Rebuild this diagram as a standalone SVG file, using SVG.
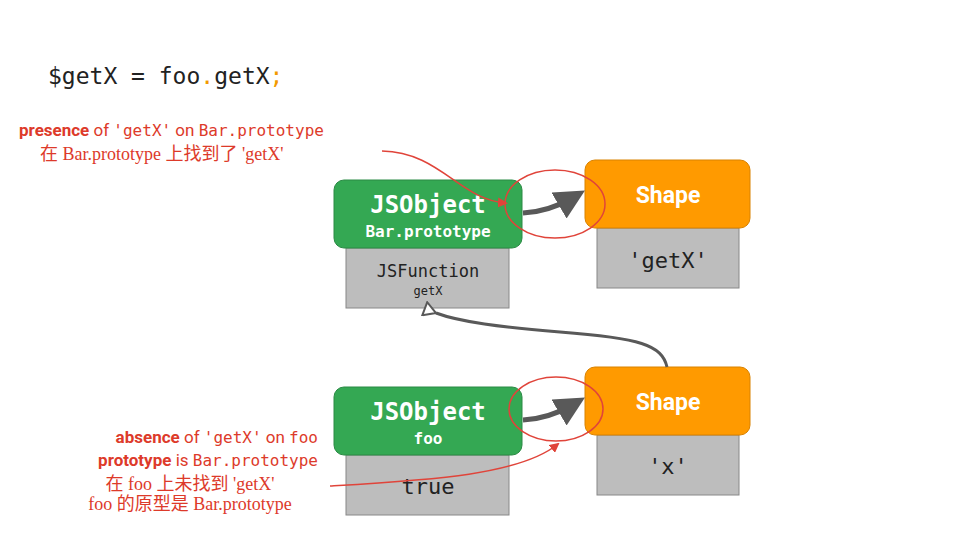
<svg xmlns="http://www.w3.org/2000/svg" width="960" height="540" viewBox="0 0 960 540">
<style>
.g{fill:#34a853;stroke:#2a8a44;stroke-width:1}
.o{fill:#ff9a00;stroke:#d98200;stroke-width:1}
.b{fill:#bdbdbd;stroke:#888;stroke-width:1}
.m{font-family:"DejaVu Sans Mono","Liberation Mono",monospace}
.w{fill:#fff;font-weight:bold}
.r{fill:#dd3a2a;font-family:"Roboto","Liberation Sans",sans-serif;font-size:17px}
.rz{fill:#dd3a2a;font-family:"Liberation Serif","Noto Sans CJK SC",serif;font-size:18px}
.c{fill:none;stroke:#595959;stroke-width:5}
.red{fill:none;stroke:#e0443a;stroke-width:1.5}
</style>
<defs>
<marker id="ah" markerWidth="6" markerHeight="6" refX="3" refY="3" orient="auto" markerUnits="strokeWidth"><path d="M0,0 L6,3 L0,6 Z" fill="#595959"/></marker>
<marker id="rh" markerWidth="10" markerHeight="10" refX="8" refY="5" orient="auto" markerUnits="userSpaceOnUse"><path d="M0,0 L10,5 L0,10 Z" fill="#e0443a"/></marker>
<marker id="hh" markerWidth="16" markerHeight="16" refX="2" refY="8" orient="auto" markerUnits="userSpaceOnUse"><path d="M14,1 L2,8 L14,15 Z" fill="#fff" stroke="#595959" stroke-width="2"/></marker>
</defs>
<text x="48" y="84" class="m" font-size="23" fill="#222">$getX = foo<tspan fill="#f29900">.</tspan>getX<tspan fill="#f29900">;</tspan></text>
<g id="jsobj1">
<rect x="346" y="248" width="163" height="60" class="b"/>
<rect x="334" y="180" width="188" height="68" rx="10" class="g"/>
<text x="428" y="213" class="m w" font-size="24" text-anchor="middle">JSObject</text>
<text x="428" y="237" class="m w" font-size="16" text-anchor="middle">Bar.prototype</text>
<text x="428" y="277" class="m" font-size="17" text-anchor="middle" fill="#222">JSFunction</text>
<text x="428" y="295" class="m" font-size="12" text-anchor="middle" fill="#222">getX</text>
</g>
<g id="shape1">
<rect x="597" y="228" width="142" height="60" class="b"/>
<rect x="585" y="160" width="165" height="68" rx="10" class="o"/>
<text x="668" y="203" font-family="Roboto,'Liberation Sans',sans-serif" font-size="23" class="w" text-anchor="middle">Shape</text>
<text x="668" y="268" class="m" font-size="22" text-anchor="middle" fill="#222">'getX'</text>
</g>
<g id="jsobj2">
<rect x="346" y="455" width="163" height="60" class="b"/>
<rect x="334" y="387" width="188" height="68" rx="10" class="g"/>
<text x="428" y="420" class="m w" font-size="24" text-anchor="middle">JSObject</text>
<text x="428" y="444" class="m w" font-size="16" text-anchor="middle">foo</text>
<text x="428" y="494" class="m" font-size="22" text-anchor="middle" fill="#222">true</text>
</g>
<g id="shape2">
<rect x="597" y="435" width="142" height="60" class="b"/>
<rect x="585" y="367" width="165" height="68" rx="10" class="o"/>
<text x="668" y="410" font-family="Roboto,'Liberation Sans',sans-serif" font-size="23" class="w" text-anchor="middle">Shape</text>
<text x="668" y="474" class="m" font-size="22" text-anchor="middle" fill="#222">'x'</text>
</g>
<g id="connectors">
<path d="M523,213 C545,212 560,205 572,198" class="c" marker-end="url(#ah)"/>
<path d="M523,420 C545,419 560,412 572,405" class="c" marker-end="url(#ah)"/>
<path d="M667,367 C662,345 640,338 560,332 C500,327 460,322 436,313" fill="none" stroke="#595959" stroke-width="3" marker-end="url(#hh)"/>
<ellipse cx="555" cy="204" rx="50" ry="34" class="red"/>
<ellipse cx="556" cy="409" rx="47" ry="32" class="red"/>
<path d="M382,151 C440,152 460,200 506,203" class="red" marker-end="url(#rh)"/>
<path d="M330,486 C430,480 520,475 558,444" class="red" marker-end="url(#rh)"/>
</g>
<g id="labels">
<text x="19" y="136" class="r"><tspan font-weight="bold">presence</tspan> of <tspan class="m" font-size="16">'getX'</tspan> on <tspan class="m" font-size="16">Bar.prototype</tspan></text>
<text x="40" y="160" class="rz">在 Bar.prototype 上找到了 'getX'</text>
<text x="318" y="443" class="r" text-anchor="end"><tspan font-weight="bold">absence</tspan> of <tspan class="m" font-size="16">'getX'</tspan> on <tspan class="m" font-size="16">foo</tspan></text>
<text x="318" y="466" class="r" text-anchor="end"><tspan font-weight="bold">prototype</tspan> is <tspan class="m" font-size="16">Bar.prototype</tspan></text>
<text x="190" y="490" class="rz" text-anchor="middle">在 foo 上未找到 'getX'</text>
<text x="190" y="510" class="rz" text-anchor="middle">foo 的原型是 Bar.prototype</text>
</g>
</svg>
